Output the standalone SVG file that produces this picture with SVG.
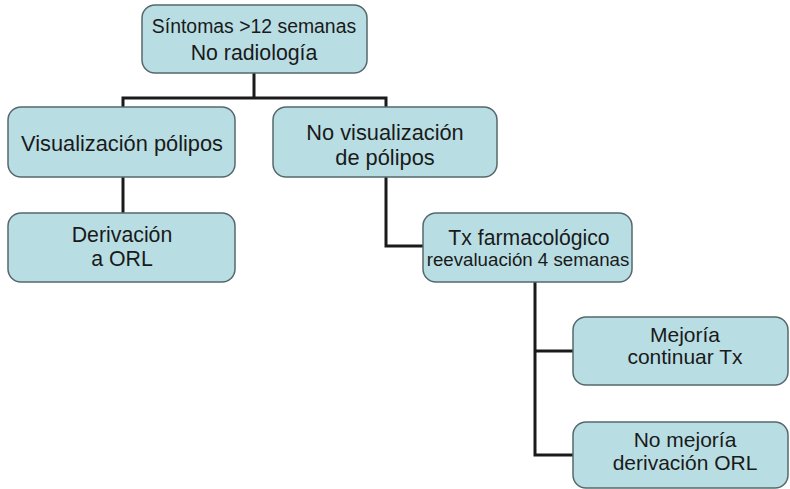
<svg xmlns="http://www.w3.org/2000/svg" width="790" height="489" viewBox="0 0 790 489">
<style>
.box{fill:#b8dee4;stroke:#56686b;stroke-width:1.5}
.lbl{font-family:"Liberation Sans",Arial,sans-serif;fill:#1a1a1a;text-anchor:middle}
.con{fill:none;stroke:#1a1a1a;stroke-width:3;stroke-linejoin:miter}
</style>
<rect width="790" height="489" fill="#ffffff"/>
<g id="connectors">
<path class="con" d="M254 73 V98 M123 107 V98 H386 V107"/>
<path class="con" d="M123 177 V213"/>
<path class="con" d="M386 177 V246 H423"/>
<path class="con" d="M535 282 V455 H573 M535 351 H573"/>
</g>
<g id="n1">
<rect class="box" x="142" y="5" width="225" height="68" rx="13"/>
<text class="lbl" x="254" y="33" font-size="19.4">Síntomas &gt;12 semanas</text>
<text class="lbl" x="254" y="60" font-size="21.3">No radiología</text>
</g>
<g id="n2">
<rect class="box" x="8" y="107" width="227" height="70" rx="13"/>
<text class="lbl" x="122" y="151" font-size="21.8">Visualización pólipos</text>
</g>
<g id="n3">
<rect class="box" x="273" y="107" width="224" height="70" rx="13"/>
<text class="lbl" x="385" y="140" font-size="21.8">No visualización</text>
<text class="lbl" x="385" y="165" font-size="21.8">de pólipos</text>
</g>
<g id="n4">
<rect class="box" x="8" y="213" width="227" height="69" rx="13"/>
<text class="lbl" x="122" y="242" font-size="21.3">Derivación</text>
<text class="lbl" x="122" y="266" font-size="21.3">a ORL</text>
</g>
<g id="n5">
<rect class="box" x="423" y="213" width="209" height="69" rx="13"/>
<text class="lbl" x="529" y="245" font-size="21.2">Tx farmacológico</text>
<text class="lbl" x="528" y="266" font-size="18.7">reevaluación 4 semanas</text>
</g>
<g id="n6">
<rect class="box" x="573" y="317" width="215" height="68" rx="13"/>
<text class="lbl" x="685" y="342" font-size="21">Mejoría</text>
<text class="lbl" x="685" y="364" font-size="21">continuar Tx</text>
</g>
<g id="n7">
<rect class="box" x="573" y="422" width="215" height="66" rx="13"/>
<text class="lbl" x="685" y="447" font-size="21">No mejoría</text>
<text class="lbl" x="685" y="470" font-size="21">derivación ORL</text>
</g>
</svg>
